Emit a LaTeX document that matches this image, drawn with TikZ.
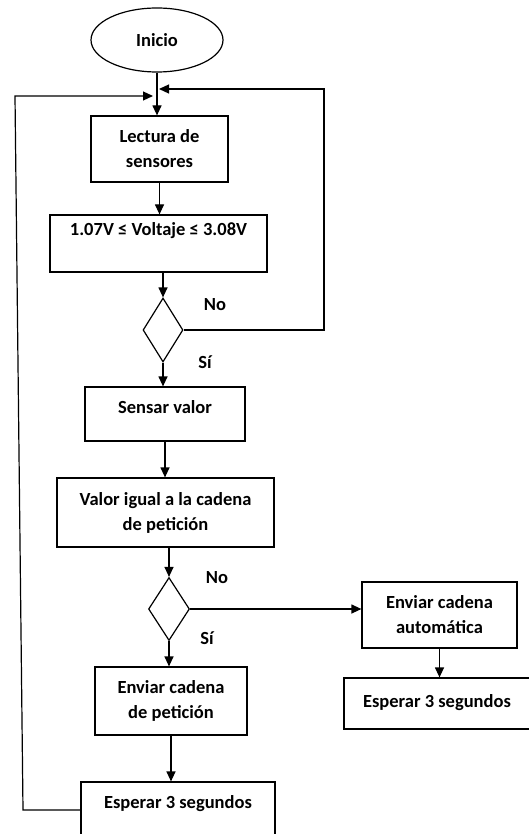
\documentclass[tikz,border=0pt]{standalone}
\usepackage{fontspec}
\setmainfont{Carlito}
\usetikzlibrary{shapes.geometric,arrows.meta}
\tikzstyle{chart} = [x = 1pt, y = -1pt, font=\fontsize{18.5}{25}\selectfont\bfseries]
\tikzstyle{stepBox} = [draw, line width=1.2pt, inner sep=0pt, align=center]
\tikzstyle{startStop} = [draw, ellipse, line width=1.2pt, inner sep=0pt]
\tikzstyle{decision} = [draw, diamond, line width=1.2pt, inner sep=0pt]
\tikzstyle{answer} = [inner sep=0pt]
\tikzstyle{flowLine} = [line width=1.2pt]
\tikzstyle{flowArrow} = [flowLine, -{Triangle[length=10pt, width=9pt]}]
\tikzset{oneLine/.style={text height=13.5pt, text depth=#1}, oneLine/.default=5.7pt}

\begin{document}
\begin{tikzpicture}[chart]
  \useasboundingbox (0,0) rectangle (529,834);

  % main column
  \node [startStop, minimum width=132pt, minimum height=64pt] (inicio) at (157,40) {Inicio};
  \node [stepBox, minimum width=137pt, minimum height=66pt] (lectura) at (159.5,149) {Lectura de\\sensores};
  \node [stepBox, oneLine=29.7pt, minimum width=217pt, minimum height=57pt] (rango) at (158.5,243.5) {1.07V ≤ Voltaje ≤ 3.08V};
  \node [decision, minimum width=40pt, minimum height=64pt] (checkRango) at (163,330) {};
  \node [stepBox, oneLine=14.7pt, minimum width=160pt, minimum height=54pt] (sensar) at (165,414) {Sensar valor};
  \node [stepBox, minimum width=217pt, minimum height=69pt] (comparar) at (165.5,512.5) {Valor igual a la cadena\\de petición};
  \node [decision, minimum width=41pt, minimum height=63pt] (checkValor) at (169,609) {};
  \node [stepBox, minimum width=152pt, minimum height=68pt] (peticion) at (171,701) {Enviar cadena\\de petición};
  \node [stepBox, oneLine=28.7pt, minimum width=194pt, minimum height=68pt] (esperaA) at (178,816) {Esperar 3 segundos};

  % right branch
  \node [stepBox, minimum width=155pt, minimum height=66pt] (automatica) at (439.5,615) {Enviar cadena\\automática};
  \node [stepBox, oneLine, minimum width=186pt, minimum height=51pt] (esperaB) at (437,703.5) {Esperar 3 segundos};

  \node [answer] (noA) at (215,305) {No};
  \node [answer] (siA) at (205,362) {Sí};
  \node [answer] (noB) at (217,578) {No};
  \node [answer] (siB) at (207,638) {Sí};

  \coordinate (joinR) at (159,89);
  \coordinate (joinL) at (153,96);
  \coordinate (loopR) at (324,89);
  \coordinate (loopTL) at (15,96);
  \coordinate (loopBL) at (23,810);

  \draw [flowArrow] (inicio.south) -- (inicio.south |- lectura.north);
  \draw [flowArrow] (lectura.south) -- (lectura.south |- rango.north);
  \draw [flowArrow] (checkRango.north |- rango.south) -- (checkRango.north);
  \draw [flowArrow] (checkRango.south) -- (checkRango.south |- sensar.north);
  \draw [flowArrow] (sensar.south) -- (sensar.south |- comparar.north);
  \draw [flowArrow] (checkValor.north |- comparar.south) -- (checkValor.north);
  \draw [flowArrow] (checkValor.south) -- (checkValor.south |- peticion.north);
  \draw [flowArrow] (peticion.south) -- (peticion.south |- esperaA.north);
  \draw [flowArrow] (checkValor.east) -- (checkValor.east -| automatica.west);
  \draw [flowArrow] (automatica.south) -- (automatica.south |- esperaB.north);

  % loops back to the top
  \draw [flowArrow] (checkRango.east) -| (loopR) -- (joinR);
  \draw [flowArrow] (loopBL -| esperaA.west) -- (loopBL) -- (loopTL) -- (joinL);
\end{tikzpicture}
\end{document}
